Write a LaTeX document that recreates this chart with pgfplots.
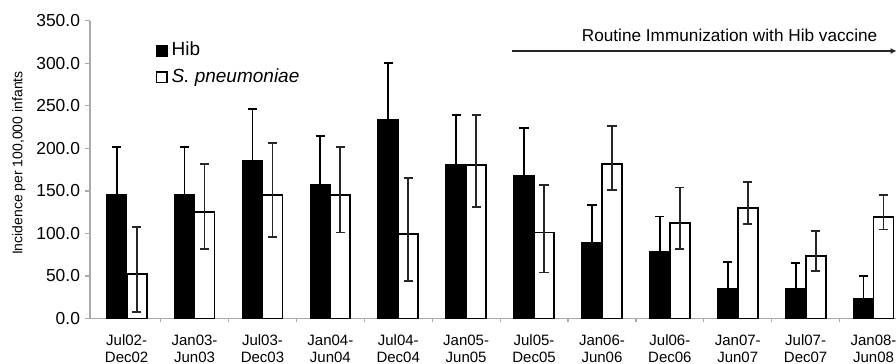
\documentclass[border=0pt]{standalone}
\usepackage{pgfplots}
\pgfplotsset{compat=1.18}
\usepackage{fontspec}
\setmainfont{Liberation Sans}
\usetikzlibrary{arrows.meta}
\definecolor{axgrey}{RGB}{170,170,170}
% x  y  plus  minus
\pgfplotstableread{
x y ep em
0 145 57 0
1 145 57 0
2 185 61 0
3 157.5 57 0
4 234 66 0
5 180.5 59 0
6 167.5 56 0
7 89.5 43.5 0
8 79 41 0
9 35.5 31 0
10 35 30 0
11 23.7 26.6 0
}\hib
\pgfplotstableread{
x y ep em
0 52 56 44
1 125.5 56 44
2 145 61 49
3 145 57 44
4 99.5 66 55
5 180.5 59 49
6 101 56 47
7 182 44 31
8 112 42 30
9 129.5 31 18
10 73.5 29 18
11 119.6 25.5 15
}\spn
\begin{document}
\begin{tikzpicture}
\useasboundingbox (0,0) rectangle (448pt,182pt);
\begin{axis}[
  at={(45pt,22.75pt)}, anchor=south west,
  scale only axis, width=408.75pt, height=148.85pt,
  xmin=-0.54, xmax=11.5, ymin=0, ymax=350,
  ybar=0pt, bar width=10pt,
  axis lines*=left,
  axis line style={axgrey, line width=0.6pt},
  clip=false,
  xtick={0,...,11},
  xticklabels={{Jul02-\\Dec02},{Jan03-\\Jun03},{Jul03-\\Dec03},{Jan04-\\Jun04},{Jul04-\\Dec04},{Jan05-\\Jun05},{Jul05-\\Dec05},{Jan06-\\Jun06},{Jul06-\\Dec06},{Jan07-\\Jun07},{Jul07-\\Dec07},{Jan08-\\Jun08}},
  x tick label style={font=\fontsize{7.5}{8.6}\selectfont, align=center, yshift=-2pt},
  major x tick style={draw=none},
  minor xtick={0.5,1.5,...,11.5},
  minor x tick style={axgrey, line width=0.6pt},
  minor tick length=2pt,
  ytick={0,50,...,350},
  y tick style={axgrey, line width=0.6pt},
  major tick length=2.5pt,
  tick align=outside,
  y tick label style={font=\fontsize{8.7}{10}\selectfont, xshift=1pt},
  yticklabel style={/pgf/number format/.cd, fixed, fixed zerofill, precision=1, assume math mode=true},
  ylabel={Incidence per 100,000 infants},
  every axis y label/.style={at={(axis description cs:-0.087,0.522)}, rotate=90, anchor=center, font=\fontsize{7}{8}\selectfont},
  legend style={at={(axis cs:0.42,330)}, anchor=north west, draw=none, fill=none, inner sep=0pt,
    font=\fontsize{9.5}{11}\selectfont, row sep=1pt,
    /tikz/every even column/.append style={column sep=2pt}},
  legend cell align=left,
  legend image code/.code={\draw[#1, line width=0.8pt] (0pt,-2.6pt) rectangle (5.2pt,2.6pt);},
]
\addplot[fill=black, draw=black, line width=0.8pt,
  error bars/.cd, y dir=plus, y explicit,
  error bar style={black, line width=0.9pt},
  error mark options={rotate=90, mark size=2.3pt, line width=0.9pt}]
  table[x=x, y=y, y error plus=ep, y error minus=em]{\hib};
\addplot[fill=white, draw=black, line width=0.9pt,
  error bars/.cd, y dir=both, y explicit,
  error bar style={black!85, line width=0.9pt},
  error mark options={rotate=90, mark size=2.3pt, line width=0.9pt}]
  table[x=x, y=y, y error plus=ep, y error minus=em]{\spn};
\legend{Hib, \textit{S. pneumoniae}}
\draw[black!85, line width=1pt, -{Latex[length=3pt,width=3pt]}] (axis cs:5.67,314.5) -- (axis cs:11.34,314.5);
\node[font=\fontsize{8.6}{10}\selectfont] at (axis cs:8.88,333) {Routine Immunization with Hib vaccine};
\end{axis}
\end{tikzpicture}
\end{document}
